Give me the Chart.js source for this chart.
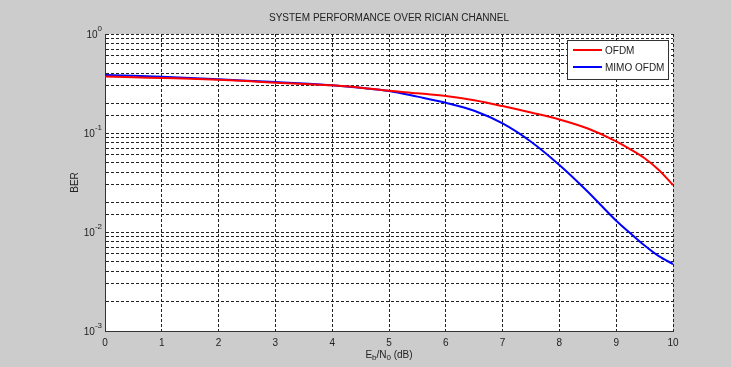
<!DOCTYPE html>
<html>
<head>
<meta charset="utf-8">
<script src="https://cdn.jsdelivr.net/npm/chart.js@4/dist/chart.umd.min.js"></script>
<style>
  html, body { margin: 0; padding: 0; background: #cccccc; }
  #wrap { width: 731px; height: 367px; }
</style>
</head>
<body>
<div id="wrap"><canvas id="ber-chart" width="731" height="367"></canvas></div>
<script>
// Eb/N0 in dB
const ebno = [0, 0.5, 1, 1.5, 2, 2.5, 3, 3.5, 4, 4.5, 5, 5.5, 6, 6.5, 7, 7.5, 8, 8.5, 9, 9.25, 9.5, 9.75, 10];

// BER
const ofdmBer = [0.372, 0.366, 0.359, 0.353, 0.345, 0.335, 0.322, 0.312, 0.303, 0.287, 0.267,
                 0.252, 0.236, 0.214, 0.187, 0.161, 0.137, 0.111, 0.0825, 0.0684, 0.0555, 0.0423, 0.0298];
const mimoBer = [0.385, 0.378, 0.370, 0.360, 0.349, 0.338, 0.327, 0.316, 0.303, 0.286, 0.266,
                 0.233, 0.202, 0.168, 0.125, 0.0817, 0.0475, 0.0255, 0.013, 0.0097, 0.0073, 0.0057, 0.00475];

const seriesNames = ['OFDM', 'MIMO OFDM'];
const seriesColors = ['#ff0000', '#0000ff'];

// y decades and their exponents for the 10^n labels
const decadeValues = [1, 0.1, 0.01, 0.001];
const decadeExponents = ['0', '-1', '-2', '-3'];

const chartTitle = 'SYSTEM PERFORMANCE OVER RICIAN CHANNEL';
const yTitle = 'BER';

const FONT = '"Liberation Sans", Arial, sans-serif';
const TEXT = '#222222';

// draws title, axis titles, y labels with superscripts and the boxed legend
const matlabText = {
    id: 'matlabText',
    afterDraw(chart) {
        const ctx = chart.ctx;
        const area = chart.chartArea;
        const yScale = chart.scales.y;
        ctx.save();
        ctx.fillStyle = TEXT;

        // title
        ctx.font = '10px ' + FONT;
        ctx.textAlign = 'center';
        ctx.textBaseline = 'middle';
        ctx.fillText(chartTitle, (area.left + area.right) / 2, 18);

        // y decade labels 10^n
        decadeValues.forEach(function(v, i) {
            const y = yScale.getPixelForValue(v);
            const exp = decadeExponents[i];
            ctx.font = '8px ' + FONT;
            const expW = ctx.measureText(exp).width;
            ctx.textAlign = 'left';
            ctx.fillText(exp, area.left - 3 - expW, y - 5);
            ctx.font = '10px ' + FONT;
            ctx.textAlign = 'right';
            ctx.fillText('10', area.left - 3 - expW, y + 1);
        });

        // y title
        ctx.save();
        ctx.translate(75, (area.top + area.bottom) / 2);
        ctx.rotate(-Math.PI / 2);
        ctx.font = '10px ' + FONT;
        ctx.textAlign = 'center';
        ctx.fillText(yTitle, 0, 0);
        ctx.restore();

        // x title E_b/N_0 (dB)
        const parts = [['E', 0], ['b', 1], ['/N', 0], ['0', 1], [' (dB)', 0]];
        let total = 0;
        parts.forEach(function(p) {
            ctx.font = (p[1] ? '8px ' : '10px ') + FONT;
            total += ctx.measureText(p[0]).width;
        });
        let x = (area.left + area.right) / 2 - total / 2;
        ctx.textAlign = 'left';
        parts.forEach(function(p) {
            ctx.font = (p[1] ? '8px ' : '10px ') + FONT;
            ctx.fillText(p[0], x, p[1] ? 358 : 355);
            x += ctx.measureText(p[0]).width;
        });

        // legend box
        const lx = 567, ly = 40, lw = 101, lh = 39;
        ctx.fillStyle = '#ffffff';
        ctx.fillRect(lx, ly, lw, lh);
        ctx.strokeStyle = '#333333';
        ctx.lineWidth = 1;
        ctx.strokeRect(lx + 0.5, ly + 0.5, lw, lh);
        seriesNames.forEach(function(name, i) {
            const yy = ly + 10 + i * 17;
            ctx.strokeStyle = seriesColors[i];
            ctx.lineWidth = 2;
            ctx.beginPath();
            ctx.moveTo(lx + 6, yy);
            ctx.lineTo(lx + 35, yy);
            ctx.stroke();
            ctx.fillStyle = TEXT;
            ctx.font = '10px ' + FONT;
            ctx.textAlign = 'left';
            ctx.fillText(name, lx + 38, yy + 1);
        });
        ctx.restore();
    }
};

// white plot background
const plotBackground = {
    id: 'plotBackground',
    beforeDraw(chart) {
        const a = chart.chartArea;
        chart.ctx.save();
        chart.ctx.fillStyle = '#ffffff';
        chart.ctx.fillRect(a.left, a.top, a.right - a.left, a.bottom - a.top);
        chart.ctx.restore();
    }
};

const gridStyle = {
    color: '#222222',
    lineWidth: 1,
    drawTicks: false
};

// in Chart.js 4 border.dash sets the dash of the grid lines
const axisBorder = { display: true, color: '#333333', width: 1, dash: [3, 2] };

new Chart(document.getElementById('ber-chart'), {
    type: 'line',
    data: {
        datasets: [
            {
                label: seriesNames[0],
                data: ebno.map((x, i) => ({ x: x, y: ofdmBer[i] })),
                borderColor: seriesColors[0],
                borderWidth: 2,
                pointRadius: 0,
                cubicInterpolationMode: 'monotone'
            },
            {
                label: seriesNames[1],
                data: ebno.map((x, i) => ({ x: x, y: mimoBer[i] })),
                borderColor: seriesColors[1],
                borderWidth: 2,
                pointRadius: 0,
                cubicInterpolationMode: 'monotone'
            }
        ]
    },
    options: {
        responsive: false,
        animation: false,
        layout: { padding: { left: 0, right: 58, top: 34, bottom: 0 } },
        plugins: {
            legend: { display: false },
            title: { display: false },
            tooltip: { enabled: false }
        },
        scales: {
            x: {
                type: 'linear',
                min: 0,
                max: 10,
                ticks: {
                    stepSize: 1,
                    color: TEXT,
                    font: { family: FONT, size: 10 },
                    padding: 6
                },
                grid: gridStyle,
                border: axisBorder,
                afterFit(scale) { scale.height = 36; }
            },
            y: {
                type: 'logarithmic',
                min: 0.001,
                max: 1,
                ticks: { display: false },
                grid: gridStyle,
                border: axisBorder,
                afterFit(scale) { scale.width = 105; }
            }
        }
    },
    plugins: [plotBackground, matlabText]
});
</script>
</body>
</html>
